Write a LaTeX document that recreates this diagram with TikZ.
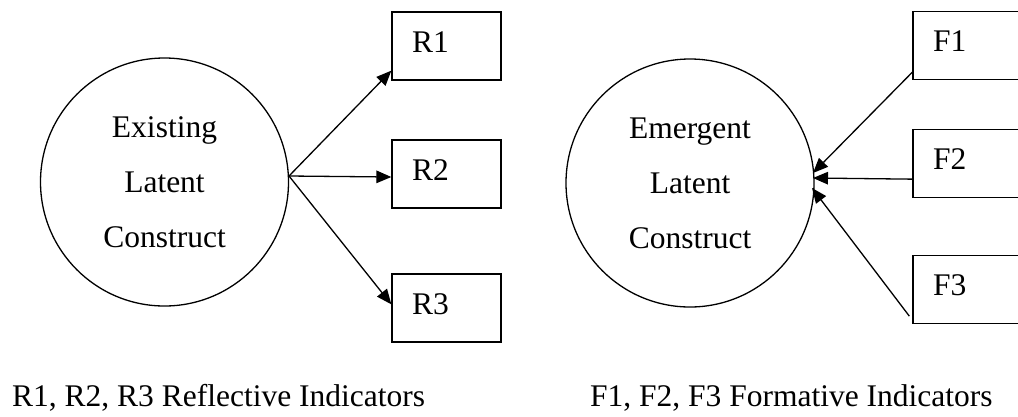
\documentclass[tikz,border=0pt]{standalone}
\usepackage{fontspec}
\setmainfont{Liberation Serif}
\usetikzlibrary{arrows.meta,calc}
\begin{document}
\begin{tikzpicture}[x=1pt,y=-1pt,
  every node/.style={font=\fontsize{31.5}{55}\selectfont},
  construct/.style={circle,draw,line width=1.3pt,minimum size=248pt,inner sep=0pt,align=center},
  indicator/.style={rectangle,draw,line width=1.3pt,minimum width=109pt,minimum height=68pt,
    text width=69pt,inner xsep=20pt,inner ysep=0pt,align=left,text height=22pt,text depth=10pt},
  link/.style={line width=1.3pt,-{Triangle[length=15pt,width=12.5pt]}},
  caption/.style={anchor=base west,inner sep=0pt}]
\useasboundingbox (0,0) rectangle (1018,416);
\clip (0,0) rectangle (1018,416);
% left part
\node[construct] (E) at (164.5,182) {Existing\\Latent\\Construct};
\node[indicator] (R1) at (446.5,46) {R1};
\node[indicator] (R2) at (446.5,174) {R2};
\node[indicator] (R3) at (446.5,308) {R3};
\coordinate (ls) at (289,176);
\draw[link] (ls) -- ($(R1.south west)+(0,-10)$);
\draw[link] (ls) -- ($(R2.west)+(0,3)$);
\draw[link] (ls) -- ($(R3.north west)+(0,31)$);
% right part
\node[construct] (M) at (690,183) {Emergent\\Latent\\Construct};
\node[indicator] (F1) at (967.5,45.5) {F1};
\node[indicator] (F2) at (967.5,163.5) {F2};
\node[indicator] (F3) at (967.5,289.5) {F3};
\coordinate (t1) at (813,173);
\coordinate (t2) at (813,178);
\coordinate (t3) at (812,188);
\draw[link] ($(F1.south west)+(1,-9)$) -- (t1);
\draw[link] ($(F2.south west)+(0,-19)$) -- (t2);
\draw[link] ($(F3.south west)+(-3,-8)$) -- (t3);
% captions
\node[caption] (capR) at (12,406) {R1, R2, R3 Reflective Indicators};
\node[caption] (capF) at (590,406) {F1, F2, F3 Formative Indicators};
\end{tikzpicture}
\end{document}
